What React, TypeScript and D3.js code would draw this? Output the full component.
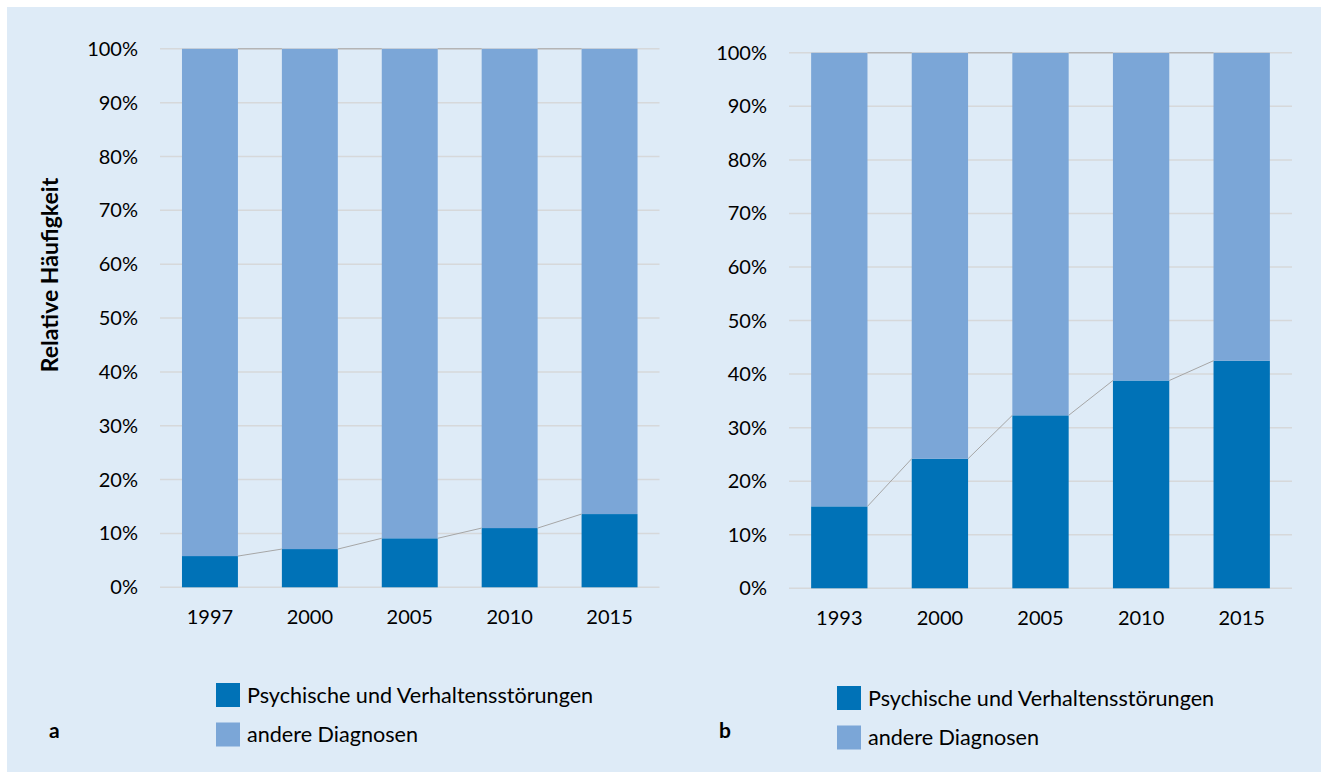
import React from "react";
import * as d3 from "d3";

const yearsA = ["1997", "2000", "2005", "2010", "2015"];
const psychA = [5.8, 7.1, 9.1, 11.0, 13.6];
const otherA = [94.2, 92.9, 90.9, 89.0, 86.4];

const yearsB = ["1993", "2000", "2005", "2010", "2015"];
const psychB = [15.3, 24.2, 32.3, 38.8, 42.5];
const otherB = [84.7, 75.8, 67.7, 61.2, 57.5];

const yTicks = [0, 10, 20, 30, 40, 50, 60, 70, 80, 90, 100];
const seriesNames = ["Psychische und Verhaltensstörungen", "andere Diagnosen"];
const yTitle = "Relative Häufigkeit";

const C_DARK = "#0072b7";
const C_LIGHT = "#7ba6d7";
const C_BG = "#deebf7";
const C_GRID = "#d6d8da";
const C_SERIES = "#a6a6a6";
const FONT = "Lato, 'Open Sans', sans-serif";

type PanelProps = {
  years: string[];
  psych: number[];
  other: number[];
  x0: number;
  x1: number;
  y0: number;
  y100: number;
  labelRight: number;
  letter: string;
  letterX: number;
  letterY: number;
  legX: number;
  legY: number;
};

function Panel(p: PanelProps) {
  const x = d3
    .scaleBand<string>()
    .domain(p.years)
    .range([p.x0, p.x1])
    .paddingInner(0.44)
    .paddingOuter(0.22);
  const y = d3.scaleLinear().domain([0, 100]).range([p.y0, p.y100]);
  const bw = x.bandwidth();
  const stacked = p.years.map((yr, i) => ({
    yr,
    a: p.psych[i],
    b: p.psych[i] + p.other[i],
  }));
  const fmt = (v: number) => `${v}%`;

  return (
    <g>
      {yTicks.map((t) => (
        <g key={t}>
          <line
            x1={p.x0}
            x2={p.x1}
            y1={y(t)}
            y2={y(t)}
            stroke={C_GRID}
            strokeWidth={1.5}
          />
          <text
            x={p.labelRight}
            y={y(t)}
            dy="0.35em"
            textAnchor="end"
            fontSize={20}
            fontFamily={FONT}
            fill="#000"
          >
            {fmt(t)}
          </text>
        </g>
      ))}
      {stacked.map((d) => (
        <g key={d.yr}>
          <rect
            x={x(d.yr)!}
            width={bw}
            y={y(d.a)}
            height={y(0) - y(d.a)}
            fill={C_DARK}
          />
          <rect
            x={x(d.yr)!}
            width={bw}
            y={y(d.b)}
            height={y(d.a) - y(d.b)}
            fill={C_LIGHT}
          />
          <text
            x={x(d.yr)! + bw / 2}
            y={p.y0 + 37}
            textAnchor="middle"
            fontSize={20}
            fontFamily={FONT}
            fill="#000"
          >
            {d.yr}
          </text>
        </g>
      ))}
      {stacked.slice(0, -1).map((d, i) => {
        const n = stacked[i + 1];
        return (
          <g key={"s" + d.yr}>
            <line
              x1={x(d.yr)! + bw}
              x2={x(n.yr)!}
              y1={y(d.a)}
              y2={y(n.a)}
              stroke={C_SERIES}
              strokeWidth={1}
            />
            <line
              x1={x(d.yr)! + bw}
              x2={x(n.yr)!}
              y1={y(d.b)}
              y2={y(n.b)}
              stroke={C_SERIES}
              strokeWidth={1}
            />
          </g>
        );
      })}
      <text
        x={p.letterX}
        y={p.letterY}
        fontSize={21}
        fontWeight="bold"
        fontFamily={FONT}
        fill="#000"
      >
        {p.letter}
      </text>
      {seriesNames.map((s, i) => (
        <g key={s} transform={`translate(${p.legX},${p.legY + i * 39.5})`}>
          <rect x={0} y={0} width={24} height={24} fill={i === 0 ? C_DARK : C_LIGHT} />
          <text
            x={31}
            y={12}
            dy="0.35em"
            fontSize={21.6}
            fontFamily={FONT}
            fill="#000"
          >
            {s}
          </text>
        </g>
      ))}
    </g>
  );
}

export default function App() {
  return (
    <svg
      width={1321}
      height={776}
      style={{ position: "absolute", left: 0, top: 0 }}
    >
      <rect x={0} y={0} width={1321} height={776} fill="#ffffff" />
      <rect x={7} y={7} width={1314} height={765} fill={C_BG} />
      <Panel
        years={yearsA}
        psych={psychA}
        other={otherA}
        x0={160}
        x1={659.5}
        y0={587.3}
        y100={48.8}
        labelRight={138}
        letter="a"
        letterX={49}
        letterY={738}
        legX={216}
        legY={683}
      />
      <Panel
        years={yearsB}
        psych={psychB}
        other={otherB}
        x0={789}
        x1={1292}
        y0={588.3}
        y100={52.8}
        labelRight={767}
        letter="b"
        letterX={719}
        letterY={738}
        legX={837}
        legY={686}
      />
      <text
        transform="translate(58,275) rotate(-90)"
        textAnchor="middle"
        fontSize={23}
        fontWeight="bold"
        fontFamily={FONT}
        fill="#000"
      >
        {yTitle}
      </text>
    </svg>
  );
}
